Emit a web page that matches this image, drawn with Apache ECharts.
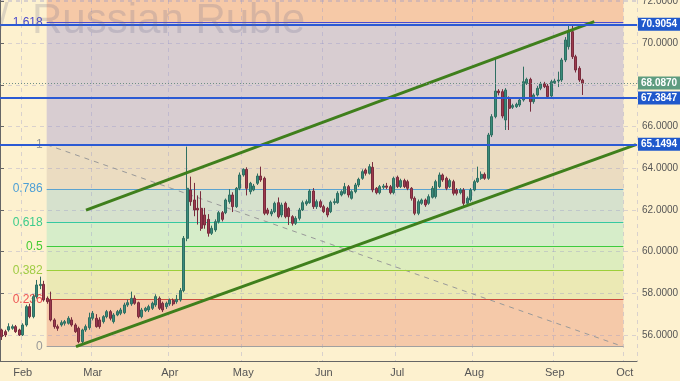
<!DOCTYPE html>
<html><head><meta charset="utf-8">
<script src="https://cdn.jsdelivr.net/npm/echarts@6/dist/echarts.min.js"></script>
<style>html,body{margin:0;padding:0;background:#fdf1cf;}#c{width:680px;height:381px;}</style>
</head><body><div id="c"></div>
<script>
// ---- data ----
const firstDay = '2018-01-24';
const lastDay = '2018-10-04';
const monthNames = ['Jan','Feb','Mar','Apr','May','Jun','Jul','Aug','Sep','Oct','Nov','Dec'];
// daily candles [open, close, low, high], one per trading day from firstDay
const candles = [
[56.24,55.92,55.76,56.30],[56.16,56.00,55.90,56.25],[56.24,56.40,56.16,56.56],[56.32,56.40,56.25,56.50],
[56.40,56.16,56.10,56.48],[56.24,56.00,55.95,56.30],[56.00,56.48,55.95,56.56],[56.48,57.36,56.40,57.45],
[57.36,56.88,56.80,57.50],[56.88,57.84,56.80,57.95],[57.84,58.40,57.75,58.64],[58.37,58.43,58.20,58.80],
[58.43,57.68,57.60,58.60],[57.76,57.60,57.50,57.85],[57.68,56.72,56.65,58.08],[56.72,56.40,56.30,56.80],
[56.40,56.32,56.20,56.50],[56.48,56.59,56.40,56.70],[56.56,56.64,56.45,56.72],[56.56,56.80,56.50,56.90],
[56.72,56.48,56.40,56.85],[56.48,56.16,56.10,56.56],[56.32,55.68,55.60,56.40],[55.68,56.24,55.60,56.30],
[56.24,56.40,56.15,56.50],[56.35,56.83,56.25,57.07],[56.80,57.04,56.70,57.15],[56.80,56.40,56.35,57.00],
[56.72,56.40,56.30,56.85],[56.64,56.88,56.55,56.95],[56.88,57.12,56.80,57.20],[57.12,56.80,56.70,57.20],
[56.64,56.96,56.55,57.05],[56.96,57.12,56.90,57.20],[57.04,57.20,56.95,57.30],[57.07,57.44,57.00,57.55],
[57.44,57.55,57.35,57.70],[57.49,57.76,57.40,58.08],[57.76,57.52,57.45,57.90],[57.55,56.88,56.80,57.60],
[56.88,57.20,56.80,57.30],[57.17,57.28,57.10,57.35],[57.20,57.36,57.10,57.45],[57.28,57.52,57.20,57.60],
[57.44,57.84,57.35,57.95],[57.76,57.28,57.20,57.85],[57.52,57.20,57.10,57.60],[57.36,57.52,57.25,57.60],
[57.49,57.68,57.40,57.75],[57.65,57.49,57.40,57.75],[57.60,57.71,57.50,57.92],[57.68,58.13,57.60,58.25],
[58.13,60.64,58.05,60.75],[60.64,63.04,60.50,65.04],[62.96,62.40,62.20,63.60],[62.48,62.00,61.70,63.30],
[62.08,62.00,61.30,62.70],[62.08,61.12,61.00,62.90],[61.76,61.28,61.10,62.10],[61.55,60.88,60.72,61.80],
[60.88,61.12,60.80,61.25],[61.04,61.44,60.95,61.55],[61.44,61.87,61.35,61.95],[61.87,61.55,61.45,61.95],
[61.87,62.48,61.80,62.55],[62.40,62.72,62.30,63.00],[62.72,62.16,61.90,62.85],[62.16,63.04,62.10,63.10],
[63.04,63.68,62.95,63.80],[63.68,63.95,63.60,64.00],[63.95,63.04,62.70,64.05],[62.88,63.28,62.75,63.35],
[62.96,63.15,62.90,63.25],[63.28,63.63,63.20,63.75],[63.63,63.44,63.35,64.08],[63.52,61.84,61.75,63.60],
[62.00,61.84,61.75,62.10],[61.81,61.92,61.70,62.05],[61.92,62.32,61.85,62.40],[62.35,61.68,61.60,62.60],
[61.76,62.24,61.65,62.35],[62.32,61.68,61.60,62.40],[62.08,61.68,61.28,62.15],[61.68,61.36,61.25,61.75],
[61.36,61.60,61.28,61.70],[61.60,62.00,61.50,62.10],[62.00,62.35,61.95,62.45],[62.29,62.40,62.20,62.50],
[62.35,62.91,62.30,63.00],[62.91,62.16,62.05,63.05],[62.16,62.40,62.05,62.50],[62.40,62.16,62.10,62.50],
[62.16,61.92,61.85,62.25],[62.08,61.76,61.65,62.15],[61.92,62.37,61.85,62.45],[62.35,62.40,62.25,62.55],
[62.35,62.80,62.30,62.90],[62.72,62.88,62.65,62.95],[62.80,63.12,62.75,63.30],[63.12,62.72,62.60,63.20],
[62.56,62.88,62.50,62.95],[62.88,63.20,62.80,63.30],[63.20,63.47,63.10,63.55],[63.52,63.84,63.45,63.95],
[63.92,63.76,63.65,64.00],[63.76,64.08,63.70,64.20],[64.05,62.96,62.85,64.30],[63.04,62.83,62.75,63.10],
[62.83,63.12,62.75,63.20],[63.09,63.15,63.00,63.25],[63.15,63.09,63.00,63.30],[63.12,62.83,62.75,63.20],
[62.83,63.52,62.75,63.60],[63.57,63.12,63.05,63.65],[63.12,63.41,63.05,63.50],[63.41,63.12,63.05,63.50],
[63.36,63.04,62.95,63.45],[63.04,62.56,62.45,63.10],[62.56,61.84,61.75,62.65],[61.84,62.40,61.75,62.50],
[62.32,62.48,62.25,62.55],[62.48,62.24,62.15,62.55],[62.32,62.64,62.25,62.75],[62.61,63.04,62.55,63.15],
[62.64,63.36,62.55,63.45],[63.12,63.68,63.05,63.80],[63.68,63.44,63.35,63.75],[63.52,63.04,62.95,63.60],
[63.12,63.41,63.05,63.50],[63.36,62.80,62.70,63.45],[62.96,62.80,62.70,63.05],[62.83,62.96,62.75,63.05],
[62.96,62.32,62.20,63.05],[62.32,62.56,62.25,62.65],[62.48,62.96,62.40,63.05],[62.96,63.36,62.90,63.45],
[63.36,63.52,63.30,64.08],[63.52,63.71,63.45,63.85],[63.71,63.52,63.45,63.80],[63.52,65.60,63.45,65.70],
[65.60,66.48,65.50,66.60],[66.48,67.71,66.40,69.28],[67.71,67.63,67.50,67.80],[67.68,66.51,66.40,67.80],
[66.32,67.76,65.84,67.85],[67.36,66.88,65.84,67.45],[66.93,67.01,66.85,67.10],[66.96,67.07,66.90,67.15],
[67.04,67.28,66.95,67.35],[67.28,68.16,67.20,68.88],[68.08,68.27,68.00,68.35],[68.27,67.20,66.72,68.35],
[67.20,67.52,67.10,67.60],[67.52,67.84,67.45,67.95],[67.84,68.05,67.75,68.15],[68.05,67.92,67.85,68.15],
[67.95,67.44,67.35,68.05],[67.47,68.16,67.40,68.25],[68.11,68.19,68.05,68.30],[68.19,68.24,67.90,68.64],
[68.24,69.20,68.15,69.30],[69.20,70.16,69.10,70.30],[69.84,70.56,69.70,70.90],[70.56,69.36,69.25,70.85],
[69.36,68.72,68.60,69.45],[68.80,68.24,68.15,68.90],[68.24,68.087,67.52,68.30]
];
// Fibonacci retracement
const fibNames = ['1.618','1','0.786','0.618','0.5','0.382','0.236','0'];
const fibValues = [71.011, 65.135, 63.008, 61.41, 60.257, 59.105, 57.713, 55.437];
const fibStartSlot = 13.34;   // in trading-day slots
const fibEndSlot = 178.1;
// horizontal support/resistance levels
const levels = [70.9054, 67.3847, 65.1494];
const lastPrice = 68.0870;
// trend channel (slot, value)
const upperChannel = [[24.57, 61.99], [169.8, 71.04]];
const lowerChannel = [[21.71, 55.437], [181.7, 65.135]];
const yMin = 54.75, yMax = 72.08;

// ---- styles ----
const fibLineColors = ['#4b4bd0','#9a9a9a','#5ba3d0','#35c9a0','#3dcc3d','#9ccf3a','#cc4b3b','#a0a0a0'];
const fibLabelColors = ['#4848cc','#999999','#4d9fd6','#3dcc8c','#44cc33','#a0cc44','#ee5555','#999999'];
const bandColors = ['#f6c9a7','#d8cdd1','#ebdcc1','#d6e1cd','#d6edc9','#ddedbe','#ebe9b4','#f5c9a9'];

// ---- build ----
const dates = [];
for (let d = new Date(firstDay + 'T00:00:00Z'); d <= new Date(lastDay + 'T00:00:00Z'); d.setUTCDate(d.getUTCDate() + 1)) {
  const wd = d.getUTCDay();
  if (wd === 0 || wd === 6) continue;
  dates.push(d.toISOString().slice(0, 10));
}
const isMonthStart = (i) => i > 0 && dates[i].slice(5, 7) !== dates[i - 1].slice(5, 7);

const bandEdges = [yMax].concat(fibValues);
const bandData = [];
for (let k = 0; k < bandColors.length; k++) {
  bandData.push([
    { xAxis: fibStartSlot, yAxis: bandEdges[k], itemStyle: { color: bandColors[k] } },
    { xAxis: fibEndSlot, yAxis: bandEdges[k + 1] }
  ]);
}
const fibLineData = fibValues.map((v, k) => [
  { xAxis: fibStartSlot, yAxis: v, lineStyle: { color: fibLineColors[k], width: 1, type: 'solid' },
    label: { formatter: fibNames[k], color: fibLabelColors[k] } },
  { xAxis: fibEndSlot, yAxis: v }
]);

const levelData = levels.map(v => ({
  yAxis: v,
  lineStyle: { color: '#2b5ad4', width: 2, type: 'solid' },
  label: { formatter: v.toFixed(4), backgroundColor: '#1f58cc' }
}));
levelData.push({
  yAxis: lastPrice,
  lineStyle: { color: '#6f8f86', width: 1, type: [1, 2] },
  label: { formatter: lastPrice.toFixed(4), backgroundColor: '#5e9c80' }
});

const FONT = '"Liberation Sans", Arial, sans-serif';
const chart = echarts.init(document.getElementById('c'), null, { renderer: 'canvas' });
chart.setOption({
  animation: false,
  backgroundColor: '#fdf1cf',
  textStyle: { fontFamily: FONT },
  title: {
    text: '/  Russian Ruble', left: -3, top: 0, padding: 0,
    textStyle: { fontSize: 42, fontWeight: 'normal', color: 'rgba(105,105,140,0.22)', fontFamily: FONT }
  },
  grid: { left: 0, right: 43, top: 0, bottom: 20, outerBoundsMode: 'none', containLabel: false },
  xAxis: [{
    type: 'category', data: dates, boundaryGap: true, z: 1.5,
    axisLine: { lineStyle: { color: '#666' } },
    axisTick: { interval: (i) => isMonthStart(i), length: 4, lineStyle: { color: '#666' } },
    axisLabel: { interval: (i) => isMonthStart(i), formatter: (v) => monthNames[+v.slice(5, 7) - 1],
      color: '#555', fontSize: 11, margin: 6 },
    splitLine: { show: true, interval: (i) => isMonthStart(i),
      lineStyle: { color: 'rgba(150,150,200,0.35)', type: [4, 4] } }
  }, {
    type: 'value', min: 0, max: dates.length, show: false
  }],
  yAxis: [{
    type: 'value', position: 'right', min: yMin, max: yMax, minInterval: 2, maxInterval: 2, splitNumber: 8, z: 1.5,
    axisLine: { show: true, lineStyle: { color: '#666' } },
    axisTick: { show: true, length: 4, lineStyle: { color: '#666' } },
    axisLabel: { formatter: (v) => v.toFixed(4), color: '#555', fontSize: 10, margin: 5,
      showMinLabel: false, showMaxLabel: false },
    splitLine: { show: true, lineStyle: { color: 'rgba(150,150,200,0.35)', type: [4, 4] } }
  }],
  series: [{
    name: 'fib', type: 'line', xAxisIndex: 1, z: 2, silent: true, symbol: 'none',
    data: [[fibStartSlot, fibValues[1]], [fibEndSlot, fibValues[7]]],
    lineStyle: { color: '#999', width: 1, type: [5, 5] },
    markArea: { silent: true, z: 1, data: bandData },
    markLine: { silent: true, symbol: 'none', z: 2.5, data: fibLineData,
      label: { position: 'start', distance: 4, fontSize: 12 } }
  }, {
    name: 'USDRUB', type: 'candlestick', xAxisIndex: 0, z: 3, data: candles, barWidth: '74%',
    itemStyle: { color: '#3a8b7b', color0: '#9c3a4e', borderColor: '#2f6f62', borderColor0: '#7a2c3d', borderWidth: 1 },
    markLine: { silent: true, symbol: 'none', z: 5, data: levelData,
      label: { position: 'end', distance: 1, color: '#fff', fontSize: 10, fontWeight: 'bold', padding: [2, 3, 1, 3] } }
  }, {
    name: 'upper', type: 'line', xAxisIndex: 1, z: 4, symbol: 'none', silent: true,
    data: upperChannel, lineStyle: { color: '#3f7f1c', width: 3 }
  }, {
    name: 'lower', type: 'line', xAxisIndex: 1, z: 4, symbol: 'none', silent: true,
    data: lowerChannel, lineStyle: { color: '#3f7f1c', width: 3 }
  }]
});
</script>
</body></html>
